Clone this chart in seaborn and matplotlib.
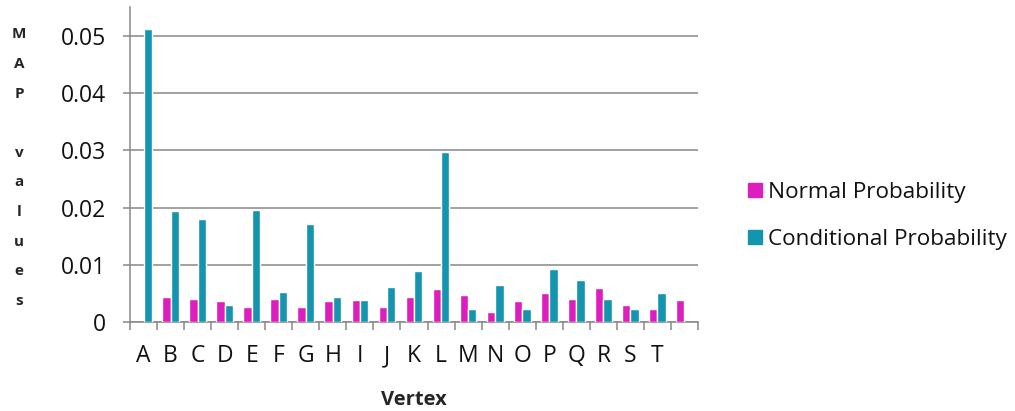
import numpy as np
import pandas as pd
import matplotlib
matplotlib.use("Agg")
import matplotlib.pyplot as plt
import seaborn as sns
from matplotlib.patches import Patch
from matplotlib.ticker import FixedLocator, FixedFormatter

# Vertex slots along the x axis (the last slot carries no label)
slots = ["A", "B", "C", "D", "E", "F", "G", "H", "I", "J", "K",
         "L", "M", "N", "O", "P", "Q", "R", "S", "T", "U"]
tick_labels = ["A", "B", "C", "D", "E", "F", "G", "H", "I", "J", "K",
               "L", "M", "N", "O", "P", "Q", "R", "S", "T", ""]

# MAP values per slot
normal_prob = [np.nan, 0.0043, 0.0040, 0.0037, 0.0026, 0.0040, 0.0027, 0.0036,
               0.0039, 0.0027, 0.0043, 0.0057, 0.0048, 0.0018, 0.0036, 0.0051,
               0.0041, 0.0059, 0.0029, 0.0022, 0.0039]
conditional_prob = [0.0513, 0.0194, 0.0181, 0.0029, 0.0196, 0.0052, 0.0171,
                    0.0043, 0.0038, 0.0062, 0.0090, 0.0297, 0.0022, 0.0064,
                    0.0022, 0.0092, 0.0073, 0.0041, 0.0022, 0.0051, np.nan]

series_names = ["Normal Probability", "Conditional Probability"]
series_colors = ["#DE1DBF", "#1394AF"]

y_ticks = [0, 0.01, 0.02, 0.03, 0.04, 0.05]
y_tick_labels = ["0", "0.01", "0.02", "0.03", "0.04", "0.05"]

df = pd.DataFrame({
    "Vertex": slots * 2,
    "Series": [series_names[0]] * len(slots) + [series_names[1]] * len(slots),
    "Value": normal_prob + conditional_prob,
})

sns.set_style("white")
plt.rcParams["font.family"] = ["Open Sans", "DejaVu Sans"]
plt.rcParams["text.color"] = "#111111"

fig = plt.figure(figsize=(10.15, 4.11), dpi=100)
ax = fig.add_axes([130 / 1015, 89 / 411, 568 / 1015, 315 / 411])

sns.barplot(data=df, x="Vertex", y="Value", hue="Series", order=slots,
            hue_order=series_names, palette=series_colors, width=0.62,
            saturation=1, ax=ax, legend=False, zorder=3)

grid_color = "#878787"
ax.set_xlim(-0.5, len(slots) - 0.5)
ax.set_ylim(0, 0.0551)

ax.yaxis.set_major_locator(FixedLocator(y_ticks))
ax.yaxis.set_major_formatter(FixedFormatter(y_tick_labels))
ax.grid(axis="y", color=grid_color, linewidth=1.1, zorder=0)
ax.grid(axis="x", visible=False)

ax.set_xticks(range(len(slots)))
ax.set_xticklabels(tick_labels)
ax.set_xticks(np.arange(-0.5, len(slots)), minor=True)
ax.tick_params(axis="x", which="major", length=0, pad=16, labelsize=16.5,
               labelcolor="#111111")
ax.tick_params(axis="x", which="minor", length=6, width=1.1, color=grid_color,
               direction="out", bottom=True)
ax.tick_params(axis="y", which="major", length=5, width=1.1, color=grid_color,
               direction="out", left=True, pad=12, labelsize=16.5,
               labelcolor="#111111")

for side in ["top", "right"]:
    ax.spines[side].set_visible(False)
for side in ["left", "bottom"]:
    ax.spines[side].set_color(grid_color)
    ax.spines[side].set_linewidth(1.1)

ax.set_xlabel("Vertex", fontsize=14.5, fontweight="bold", labelpad=16)
ax.set_ylabel("M\nA\nP\n\nv\na\nl\nu\ne\ns", rotation=0, fontsize=11,
              fontweight="bold", linespacing=2.42, va="center", ha="center")
ax.yaxis.set_label_coords(-0.195, 0.49)

handles = [Patch(facecolor=c, edgecolor=c) for c in series_colors]
fig.legend(handles, series_names, loc="center left",
           bbox_to_anchor=(728 / 1015, 0.475), frameon=False, fontsize=16.2,
           handlelength=0.6, handleheight=0.6, handletextpad=0.3,
           labelspacing=1.15)

fig.savefig("out.png", dpi=100)
